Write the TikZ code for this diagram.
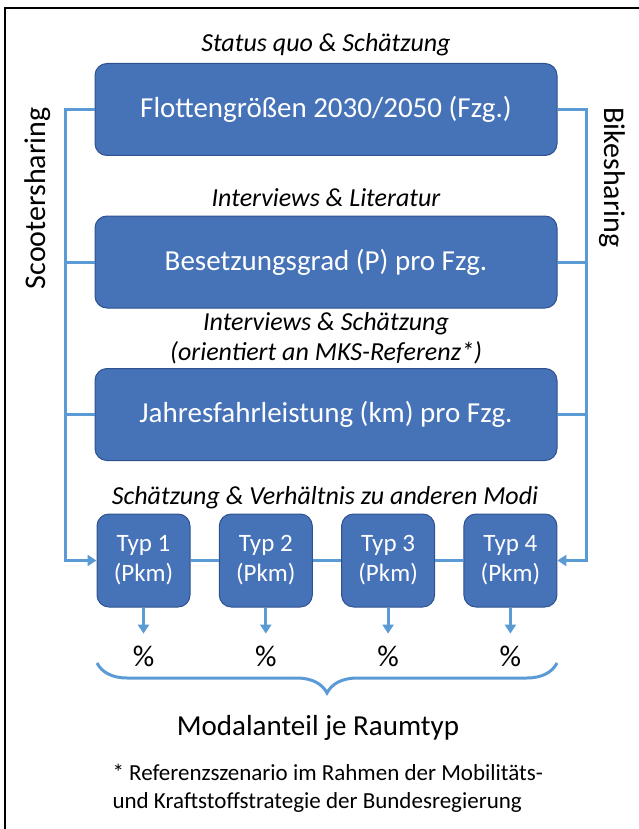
\documentclass[tikz,border=0pt]{standalone}
\usepackage{fontspec}
\setmainfont{Carlito}
\usetikzlibrary{arrows.meta,positioning,decorations.pathreplacing}
\definecolor{boxblue}{RGB}{70,114,184}
\definecolor{boxedge}{RGB}{47,82,143}
\definecolor{linkblue}{RGB}{91,155,213}
\tikzset{%
  >={Triangle[width=11pt,length=9pt]},
  % Specifications for style of nodes:
     base/.style = {rectangle, rounded corners=12pt, draw=boxedge,
                    line width=1pt, fill=boxblue, text=white,
                    align=center},
  stepbox/.style = {base, minimum width=462pt, minimum height=92pt,
                    font=\fontsize{29}{34}\selectfont},
   typbox/.style = {base, minimum width=93pt, minimum height=93pt,
                    font=\fontsize{25}{30}\selectfont},
   source/.style = {align=center, font=\fontsize{26}{30}\selectfont\itshape},
     link/.style = {draw=linkblue, line width=3pt},
}

\begin{document}
\begin{tikzpicture}[x=1pt, y=-1pt, node distance=152.5pt]
  \useasboundingbox (0,0) rectangle (639,829);
  \draw[line width=2pt] (5,829) -- (5,8) -- (639,8);
  % Specification of nodes (position, etc.)
  \node (flotte) [stepbox] at (326,109.5)  {Flottengrößen 2030/2050 (Fzg.)};
  \node (besetz) [stepbox, below of=flotte] {Besetzungsgrad (P) pro Fzg.};
  \node (jahres) [stepbox, below of=besetz] {Jahresfahrleistung (km) pro Fzg.};
  \node (srcFlotte) [source] at (326,45)  {Status quo \& Schätzung};
  \node (srcBesetz) [source] at (326,198) {Interviews \& Literatur};
  \node (srcJahres) [source] at (326,338)
     {Interviews \& Schätzung\\(orientiert an MKS-Referenz*)};
  \node (srcTyp)    [source] at (325,498) {Schätzung \& Verhältnis zu anderen Modi};
  \node (typA) [typbox] at (143.5,560.5) {Typ 1\\(Pkm)};
  \node (typB) [typbox, right of=typA, node distance=122.3pt] {Typ 2\\(Pkm)};
  \node (typC) [typbox, right of=typB, node distance=122.3pt] {Typ 3\\(Pkm)};
  \node (typD) [typbox, right of=typC, node distance=122.3pt] {Typ 4\\(Pkm)};
  \foreach \t in {A,B,C,D}
    \node (pct\t) [font=\fontsize{30}{34}\selectfont, below of=typ\t,
                   node distance=96pt] {\%};
  \node (scooter) [rotate=90, anchor=east, font=\fontsize{30}{34}\selectfont]
     at (38,104) {Scootersharing};
  \node (bike) [rotate=-90, anchor=west, font=\fontsize{30}{34}\selectfont]
     at (612,104) {Bikesharing};
  \node (modal) [font=\fontsize{29}{34}\selectfont] at (318,728)
     {Modalanteil je Raumtyp};
  \node (note) [align=left, font=\fontsize{23}{28}\selectfont, anchor=west]
     at (109,788)
     {* Referenzszenario im Rahmen der Mobilitäts-\\und Kraftstoffstrategie der Bundesregierung};
  % Connectors
  \coordinate (scL) at (65,0);
  \coordinate (scR) at (586,0);
  \draw[link, ->] (flotte.west) -| (scL |- typA.west) -- (typA.west);
  \draw[link] (besetz.west) -- (scL |- besetz.west);
  \draw[link] (jahres.west) -- (scL |- jahres.west);
  \draw[link, ->] (flotte.east) -| (scR |- typD.east) -- (typD.east);
  \draw[link] (besetz.east) -- (scR |- besetz.east);
  \draw[link] (jahres.east) -- (scR |- jahres.east);
  \draw[link] (typA) -- (typB);
  \draw[link] (typB) -- (typC);
  \draw[link] (typC) -- (typD);
  \foreach \t in {A,B,C,D}
    \draw[link, ->, shorten >=9pt] (typ\t.south) -- (pct\t.north);
  \coordinate (brL) at (97,663);
  \coordinate (brR) at (557,663);
  \draw[link, decorate, decoration={brace, mirror, amplitude=30pt}]
     (brL) -- (brR);
\end{tikzpicture}
\end{document}
